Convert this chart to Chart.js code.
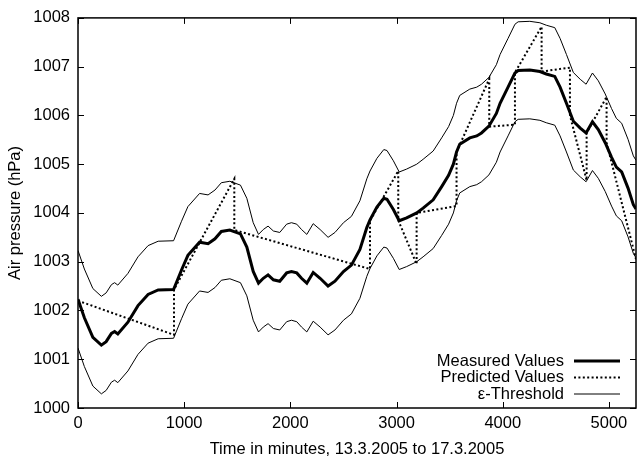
<!DOCTYPE html>
<html lang="en">
<head>
<meta charset="UTF-8">
<title>Air pressure</title>
<script src="https://cdn.jsdelivr.net/npm/chart.js"></script>
<style>
  body { margin: 0; background: #fff; }
</style>
</head>
<body>
<canvas id="myChart" width="637" height="463"></canvas>
<script>
    // time axis (minutes) shared by the measured curve and the two threshold curves
    const minutes = [0, 60, 140, 220, 265, 315, 345, 375, 470, 565, 660, 755, 900, 975, 1035, 1145, 1225, 1290, 1350, 1430,
        1530, 1590, 1650, 1700, 1745, 1790, 1840, 1900, 1965, 2010, 2060, 2105, 2155, 2215, 2280, 2355, 2420, 2500, 2575, 2655,
        2720, 2750, 2815, 2880, 2910, 2970, 3025, 3095, 3190, 3250, 3345, 3425, 3490, 3535, 3565, 3595, 3690, 3755, 3800, 3870,
        3940, 3975, 4050, 4115, 4145, 4255, 4350, 4410, 4490, 4540, 4600, 4665, 4730, 4785, 4845, 4900, 4965, 5025, 5070, 5120,
        5180, 5230, 5255];
    const measured = [1002.23, 1001.85, 1001.45, 1001.29, 1001.36, 1001.53, 1001.57, 1001.52, 1001.76, 1002.10, 1002.33, 1002.42, 1002.43, 1002.83, 1003.13, 1003.40, 1003.37, 1003.47, 1003.62, 1003.65,
        1003.57, 1003.30, 1002.80, 1002.56, 1002.66, 1002.73, 1002.63, 1002.60, 1002.77, 1002.80, 1002.77, 1002.66, 1002.56, 1002.78, 1002.66, 1002.50, 1002.60, 1002.80, 1002.93, 1003.25,
        1003.70, 1003.86, 1004.12, 1004.30, 1004.28, 1004.07, 1003.84, 1003.90, 1004.00, 1004.10, 1004.27, 1004.54, 1004.77, 1005.00, 1005.25, 1005.41, 1005.54, 1005.58, 1005.64, 1005.78,
        1006.04, 1006.25, 1006.58, 1006.87, 1006.92, 1006.93, 1006.90, 1006.85, 1006.80, 1006.58, 1006.25, 1005.88, 1005.74, 1005.64, 1005.87, 1005.71, 1005.44, 1005.14, 1004.94, 1004.84,
        1004.51, 1004.17, 1004.08];
    const upperThreshold = [1003.23, 1002.85, 1002.45, 1002.29, 1002.36, 1002.53, 1002.57, 1002.52, 1002.76, 1003.10, 1003.33, 1003.42, 1003.43, 1003.83, 1004.13, 1004.40, 1004.37, 1004.47, 1004.62, 1004.65,
        1004.57, 1004.30, 1003.80, 1003.56, 1003.66, 1003.73, 1003.63, 1003.60, 1003.77, 1003.80, 1003.77, 1003.66, 1003.56, 1003.78, 1003.66, 1003.50, 1003.60, 1003.80, 1003.93, 1004.25,
        1004.70, 1004.86, 1005.12, 1005.30, 1005.28, 1005.07, 1004.84, 1004.90, 1005.00, 1005.10, 1005.27, 1005.54, 1005.77, 1006.00, 1006.25, 1006.41, 1006.54, 1006.58, 1006.64, 1006.78,
        1007.04, 1007.25, 1007.58, 1007.87, 1007.92, 1007.93, 1007.90, 1007.85, 1007.80, 1007.58, 1007.25, 1006.88, 1006.74, 1006.64, 1006.87, 1006.71, 1006.44, 1006.14, 1005.94, 1005.84,
        1005.51, 1005.17, 1005.08];
    const lowerThreshold = [1001.23, 1000.85, 1000.45, 1000.29, 1000.36, 1000.53, 1000.57, 1000.52, 1000.76, 1001.10, 1001.33, 1001.42, 1001.43, 1001.83, 1002.13, 1002.40, 1002.37, 1002.47, 1002.62, 1002.65,
        1002.57, 1002.30, 1001.80, 1001.56, 1001.66, 1001.73, 1001.63, 1001.60, 1001.77, 1001.80, 1001.77, 1001.66, 1001.56, 1001.78, 1001.66, 1001.50, 1001.60, 1001.80, 1001.93, 1002.25,
        1002.70, 1002.86, 1003.12, 1003.30, 1003.28, 1003.07, 1002.84, 1002.90, 1003.00, 1003.10, 1003.27, 1003.54, 1003.77, 1004.00, 1004.25, 1004.41, 1004.54, 1004.58, 1004.64, 1004.78,
        1005.04, 1005.25, 1005.58, 1005.87, 1005.92, 1005.93, 1005.90, 1005.85, 1005.80, 1005.58, 1005.25, 1004.88, 1004.74, 1004.64, 1004.87, 1004.71, 1004.44, 1004.14, 1003.94, 1003.84,
        1003.51, 1003.17, 1003.08];

    // predicted values: straight segments, each restarting at the measured value
    const predictedMinutes = [0, 904, 904, 1472, 1472, 2750, 2750, 3016, 3016, 3189, 3189, 3565, 3565, 3873, 3873,
        4115, 4115, 4366, 4366, 4633, 4633, 4790, 4790, 4978, 4978, 5255];
    const predicted = [1002.2, 1001.5, 1002.43, 1004.7, 1003.65, 1002.85, 1003.84, 1004.86, 1003.85, 1002.95, 1004.0, 1004.14, 1005.25, 1006.75, 1005.77,
        1005.81, 1006.88, 1007.82, 1006.9, 1006.98, 1006.0, 1004.67, 1005.64, 1006.38, 1005.44, 1003.05];

    const xTicks = [0, 1000, 2000, 3000, 4000, 5000];
    const yTicks = [1000, 1001, 1002, 1003, 1004, 1005, 1006, 1007, 1008];
    const legendLabels = ['Measured Values', 'Predicted Values', 'ε-Threshold'];

    const fontFamily = '"Liberation Sans", Arial, Helvetica, sans-serif';
    const fontSize = 16.5;

    function toPoints(xs, ys) {
        return xs.map((x, i) => ({ x: x, y: ys[i] }));
    }

    // frame with gnuplot style inward ticks on all four sides, plus the legend
    const frameAndLegend = {
        id: 'frameAndLegend',
        afterDatasetsDraw(chart) {
            const ctx = chart.ctx;
            const a = chart.chartArea;
            const xs = chart.scales.x;
            const ys = chart.scales.y;
            ctx.save();
            ctx.strokeStyle = '#000';
            ctx.lineWidth = 1;
            ctx.beginPath();
            xs.ticks.forEach(t => {
                const px = Math.round(xs.getPixelForValue(t.value)) + 0.5;
                ctx.moveTo(px, a.bottom); ctx.lineTo(px, a.bottom - 6);
                ctx.moveTo(px, a.top); ctx.lineTo(px, a.top + 6);
            });
            ys.ticks.forEach(t => {
                const py = Math.round(ys.getPixelForValue(t.value)) + 0.5;
                ctx.moveTo(a.left, py); ctx.lineTo(a.left + 6, py);
                ctx.moveTo(a.right, py); ctx.lineTo(a.right - 6, py);
            });
            ctx.stroke();
            ctx.lineWidth = 1.5;
            ctx.strokeRect(a.left, a.top, a.right - a.left, a.bottom - a.top);

            // legend
            ctx.font = fontSize + 'px ' + fontFamily;
            ctx.fillStyle = '#000';
            ctx.textAlign = 'right';
            ctx.textBaseline = 'middle';
            const rows = [361, 377.5, 394];
            legendLabels.forEach((label, i) => {
                const ds = chart.data.datasets[i];
                ctx.fillText(label, 564, rows[i]);
                ctx.beginPath();
                ctx.lineWidth = ds.borderWidth;
                ctx.setLineDash(ds.borderDash || []);
                ctx.moveTo(574, rows[i]);
                ctx.lineTo(620, rows[i]);
                ctx.stroke();
            });
            ctx.restore();
        }
    };

    const ctx = document.getElementById('myChart').getContext('2d');

    new Chart(ctx, {
        type: 'line',
        data: {
            datasets: [{
                label: legendLabels[0],
                data: toPoints(minutes, measured),
                borderColor: '#000',
                borderWidth: 3,
                pointRadius: 0,
                tension: 0
            }, {
                label: legendLabels[1],
                data: toPoints(predictedMinutes, predicted),
                borderColor: '#000',
                borderWidth: 2,
                borderDash: [2, 2.4],
                pointRadius: 0,
                tension: 0
            }, {
                label: legendLabels[2],
                data: toPoints(minutes, upperThreshold),
                borderColor: '#000',
                borderWidth: 1,
                pointRadius: 0,
                tension: 0
            }, {
                label: legendLabels[2],
                data: toPoints(minutes, lowerThreshold),
                borderColor: '#000',
                borderWidth: 1,
                pointRadius: 0,
                tension: 0
            }]
        },
        options: {
            responsive: false,
            animation: false,
            layout: { padding: { top: 9, right: 1, left: 0, bottom: 0 } },
            plugins: {
                legend: { display: false },
                tooltip: { enabled: false }
            },
            scales: {
                x: {
                    type: 'linear',
                    min: 0,
                    max: 5255,
                    afterBuildTicks: s => { s.ticks = xTicks.map(v => ({ value: v })); },
                    afterFit: s => { s.height = 55; },
                    grid: { display: false, drawTicks: false },
                    border: { display: false },
                    ticks: {
                        padding: 6,
                        color: '#000',
                        font: { family: fontFamily, size: fontSize },
                        maxRotation: 0,
                        callback: v => String(v)
                    },
                    title: {
                        display: true,
                        text: 'Time in minutes, 13.3.2005 to 17.3.2005',
                        color: '#000',
                        font: { family: fontFamily, size: fontSize },
                        padding: { top: 0, bottom: 4 }
                    }
                },
                y: {
                    type: 'linear',
                    min: 1000,
                    max: 1008,
                    afterBuildTicks: s => { s.ticks = yTicks.map(v => ({ value: v })); },
                    afterFit: s => { s.width = 78; },
                    grid: { display: false, drawTicks: false },
                    border: { display: false },
                    ticks: {
                        padding: 8,
                        color: '#000',
                        font: { family: fontFamily, size: fontSize },
                        callback: v => String(v)
                    },
                    title: {
                        display: true,
                        text: 'Air pressure (hPa)',
                        color: '#000',
                        font: { family: fontFamily, size: fontSize },
                        padding: { top: 6, bottom: 0 }
                    }
                }
            }
        },
        plugins: [frameAndLegend]
    });
</script>
</body>
</html>
